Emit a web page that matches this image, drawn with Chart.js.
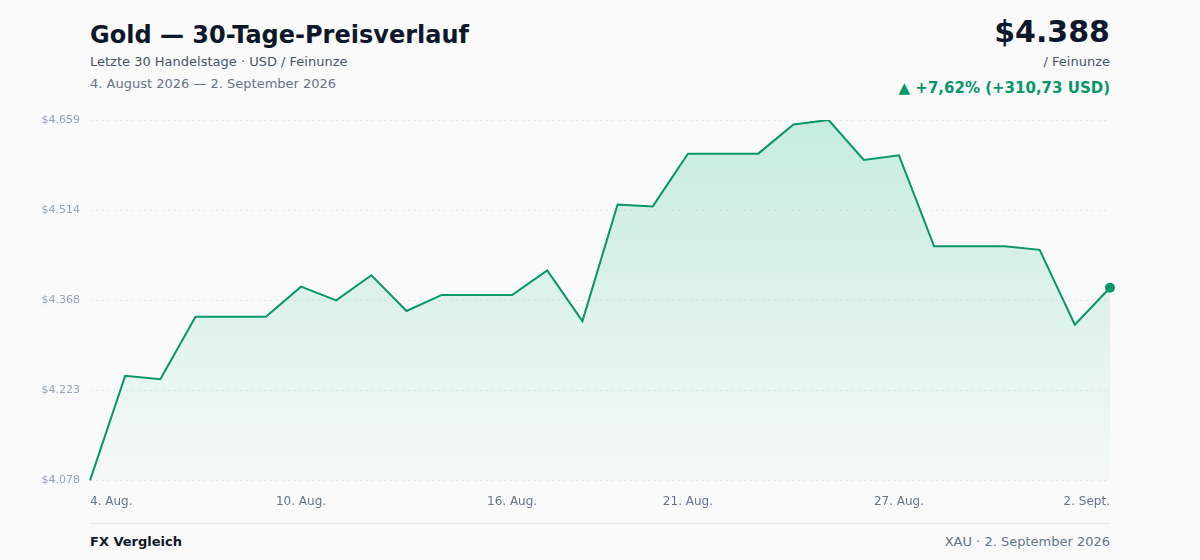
<!DOCTYPE html>
<html lang="de">
<head>
<meta charset="utf-8">
<title>Gold — 30-Tage-Preisverlauf</title>
<script src="https://cdn.jsdelivr.net/npm/chart.js@4.4.1/dist/chart.umd.min.js"></script>
<style>
    html, body {
        margin: 0;
        padding: 0;
        width: 1200px;
        height: 560px;
        background: #fafafa;
        font-family: "DejaVu Sans", sans-serif;
        overflow: hidden;
    }
    .abs { position: absolute; white-space: nowrap; }
    #title { left: 90px; top: 21px; font-size: 24px; font-weight: bold; color: #0f172a; }
    #subtitle { left: 90px; top: 54px; font-size: 13px; color: #475569; }
    #range { left: 90px; top: 76px; font-size: 13px; color: #64748b; }
    #price { right: 90px; top: 14px; font-size: 30px; font-weight: bold; color: #0f172a; }
    #unit { right: 90px; top: 54px; font-size: 13px; color: #475569; }
    #change { right: 90px; top: 79px; font-size: 15px; font-weight: bold; color: #059669; }
    #chartBox { left: 0; top: 100px; width: 1200px; height: 415px; }
    #rule { left: 90px; top: 523px; width: 1020px; height: 1px; background: #e5e7eb; }
    #footLeft { left: 90px; top: 534px; font-size: 13px; font-weight: bold; color: #0f172a; }
    #footRight { right: 90px; top: 534px; font-size: 13px; color: #64748b; }
</style>
</head>
<body>
<div class="abs" id="title">Gold — 30-Tage-Preisverlauf</div>
<div class="abs" id="subtitle">Letzte 30 Handelstage · USD / Feinunze</div>
<div class="abs" id="range">4. August 2026 — 2. September 2026</div>
<div class="abs" id="price">$4.388</div>
<div class="abs" id="unit">/ Feinunze</div>
<div class="abs" id="change">▲ +7,62% (+310,73 USD)</div>
<div class="abs" id="chartBox"><canvas id="goldChart"></canvas></div>
<div class="abs" id="rule"></div>
<div class="abs" id="footLeft">FX Vergleich</div>
<div class="abs" id="footRight">XAU · 2. September 2026</div>

<script>
/* ---------------- Data ---------------- */

const dayLabels = [
    "4. Aug.", "5. Aug.", "6. Aug.", "7. Aug.", "8. Aug.", "9. Aug.",
    "10. Aug.", "11. Aug.", "12. Aug.", "13. Aug.", "14. Aug.", "15. Aug.",
    "16. Aug.", "17. Aug.", "18. Aug.", "19. Aug.", "20. Aug.", "21. Aug.",
    "22. Aug.", "23. Aug.", "24. Aug.", "25. Aug.", "26. Aug.", "27. Aug.",
    "28. Aug.", "29. Aug.", "30. Aug.", "31. Aug.", "1. Sept.", "2. Sept."
];

const goldPrices = [
    4077.7, 4246.5, 4241.2, 4341.8, 4341.8, 4341.8,
    4390.3, 4368.2, 4408.6, 4351.0, 4376.9, 4376.9,
    4376.9, 4416.6, 4334.7, 4522.8, 4519.6, 4604.7,
    4604.7, 4604.7, 4651.6, 4658.9, 4594.4, 4602.0,
    4455.4, 4455.4, 4455.4, 4449.6, 4328.9, 4388.43
];

// indices of the dates printed under the axis
const shownTicks = [0, 6, 12, 17, 23, 29];

const GREEN = "#059669";

/* ---------------- Chart ---------------- */

const yMin = Math.min(...goldPrices);
const yMax = Math.max(...goldPrices);
const lastIdx = goldPrices.length - 1;

function areaFill(context) {
    const area = context.chart.chartArea;
    if (!area) return "rgba(16,185,129,0.12)";
    const g = context.chart.ctx.createLinearGradient(0, area.top, 0, area.bottom);
    g.addColorStop(0, "rgba(16,185,129,0.22)");
    g.addColorStop(1, "rgba(16,185,129,0.02)");
    return g;
}

new Chart(document.getElementById("goldChart"), {
    type: "line",
    data: {
        labels: dayLabels,
        datasets: [{
            data: goldPrices,
            borderColor: GREEN,
            borderWidth: 2,
            backgroundColor: areaFill,
            fill: "start",
            tension: 0,
            pointRadius: ctx => ctx.dataIndex === lastIdx ? 5 : 0,
            pointBackgroundColor: GREEN,
            pointBorderColor: GREEN,
            pointBorderWidth: 0
        }]
    },
    options: {
        responsive: true,
        maintainAspectRatio: false,
        animation: false,
        layout: { padding: { left: 0, right: 90, top: 20, bottom: 0 } },
        plugins: {
            legend: { display: false },
            tooltip: { enabled: false }
        },
        scales: {
            x: {
                grid: { display: false },
                border: { display: false },
                ticks: {
                    autoSkip: false,
                    maxRotation: 0,
                    align: "inner",
                    padding: 6,
                    color: "#64748b",
                    font: { family: "DejaVu Sans", size: 12 },
                    callback: (v, i) => shownTicks.includes(i) ? dayLabels[i] : ""
                }
            },
            y: {
                min: yMin,
                max: yMax,
                afterBuildTicks: scale => {
                    scale.ticks = [0, 1, 2, 3, 4].map(i => ({ value: yMin + i * (yMax - yMin) / 4 }));
                },
                afterFit: scale => { scale.width = 90; },
                grid: {
                    color: "#e5e7eb",
                    lineWidth: 1,
                    drawTicks: false
                },
                border: { display: false, dash: [2, 4] },
                ticks: {
                    padding: 10,
                    color: "#94a3b8",
                    font: { family: "DejaVu Sans", size: 11 },
                    callback: v => "$" + Math.round(v).toLocaleString("de-DE")
                }
            }
        }
    }
});
</script>
</body>
</html>
